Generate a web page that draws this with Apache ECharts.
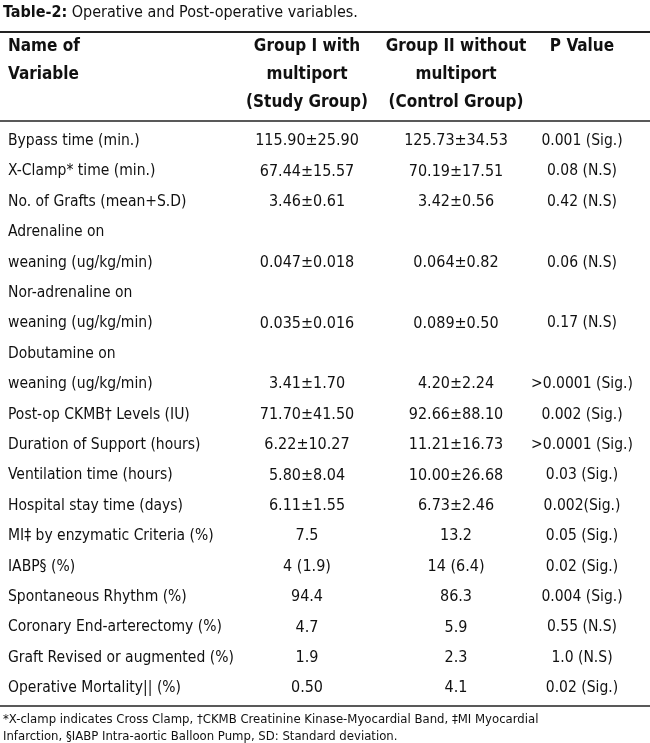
<!DOCTYPE html>
<html><head><meta charset="utf-8">
<script src="https://cdn.jsdelivr.net/npm/echarts@6/dist/echarts.min.js"></script>
<style>html,body{margin:0;padding:0;background:#fff}#c{width:650px;height:743px}</style>
</head><body><div id="c"></div>
<script>
const title = ['Table-2:', ' Operative and Post-operative variables.'];
const headers = [['Name of','Variable'],['Group I with','multiport','(Study Group)'],['Group II without','multiport','(Control Group)'],['P Value']];
const variables = [['Bypass time (min.)'],['X-Clamp* time (min.)'],['No. of Grafts (mean+S.D)'],['Adrenaline on','weaning (ug/kg/min)'],['Nor-adrenaline on','weaning (ug/kg/min)'],['Dobutamine on','weaning (ug/kg/min)'],['Post-op CKMB† Levels (IU)'],['Duration of Support (hours)'],['Ventilation time (hours)'],['Hospital stay time (days)'],['MI‡ by enzymatic Criteria (%)'],['IABP§ (%)'],['Spontaneous Rhythm (%)'],['Coronary End-arterectomy (%)'],['Graft Revised or augmented (%)'],['Operative Mortality|| (%)']];
const group1 = ['115.90±25.90','67.44±15.57','3.46±0.61','0.047±0.018','0.035±0.016','3.41±1.70','71.70±41.50','6.22±10.27','5.80±8.04','6.11±1.55','7.5','4 (1.9)','94.4','4.7','1.9','0.50'];
const group2 = ['125.73±34.53','70.19±17.51','3.42±0.56','0.064±0.82','0.089±0.50','4.20±2.24','92.66±88.10','11.21±16.73','10.00±26.68','6.73±2.46','13.2','14 (6.4)','86.3','5.9','2.3','4.1'];
const pvalues = ['0.001 (Sig.)','0.08 (N.S)','0.42 (N.S)','0.06 (N.S)','0.17 (N.S)','>0.0001 (Sig.)','0.002 (Sig.)','>0.0001 (Sig.)','0.03 (Sig.)','0.002(Sig.)','0.05 (Sig.)','0.02 (Sig.)','0.004 (Sig.)','0.55 (N.S)','1.0 (N.S)','0.02 (Sig.)'];
const footnotes = ['*X-clamp indicates Cross Clamp, †CKMB Creatinine Kinase-Myocardial Band, ‡MI Myocardial','Infarction, §IABP Intra-aortic Balloon Pump, SD: Standard deviation.'];

const FONT = '"Liberation Sans Narrow","DejaVu Sans Condensed",sans-serif';
const colX = [8, 307, 456, 582];
const els = [];
function txt(x, y, s, opts) {
  els.push({type:'text', x, y, style:Object.assign({text:s, fill:'#111', font:'16px '+FONT, textVerticalAlign:'middle', textAlign:'left'}, opts||{})});
}
function line(y, w) {
  els.push({type:'line', shape:{x1:0,y1:y,x2:650,y2:y}, style:{stroke:'#222', lineWidth:w}});
}
els.push({type:'text', x:3, y:13, style:{text:'{b|'+title[0]+'}'+title[1], fill:'#111', font:'16px '+FONT, textVerticalAlign:'middle', rich:{b:{fontWeight:'bold', fontSize:16, fontFamily:FONT}}}});
line(32, 2);
headers.forEach((h, c) => h.forEach((s, i) => txt(colX[c], 47 + i*28, s, {font:'bold 17px '+FONT, textAlign: c===0?'left':'center'})));
line(121, 1.5);
let line_i = 0;
const step = 30.4, y0 = 141;
variables.forEach((v, r) => {
  v.forEach((s, i) => txt(colX[0], y0 + (line_i+i)*step, s, {font:'15.5px '+FONT}));
  const y = y0 + (line_i + v.length - 1)*step;
  txt(colX[1], y, group1[r], {textAlign:'center'});
  txt(colX[2], y, group2[r], {textAlign:'center'});
  txt(colX[3], y, pvalues[r], {textAlign:'center', font:'15.5px '+FONT});
  line_i += v.length;
});
line(706, 1.5);
footnotes.forEach((s, i) => txt(3, 720 + i*17, s, {font:'13px '+FONT}));

const chart = echarts.init(document.getElementById('c'));
chart.setOption({animation:false, graphic:{elements:els}});
</script></body></html>
